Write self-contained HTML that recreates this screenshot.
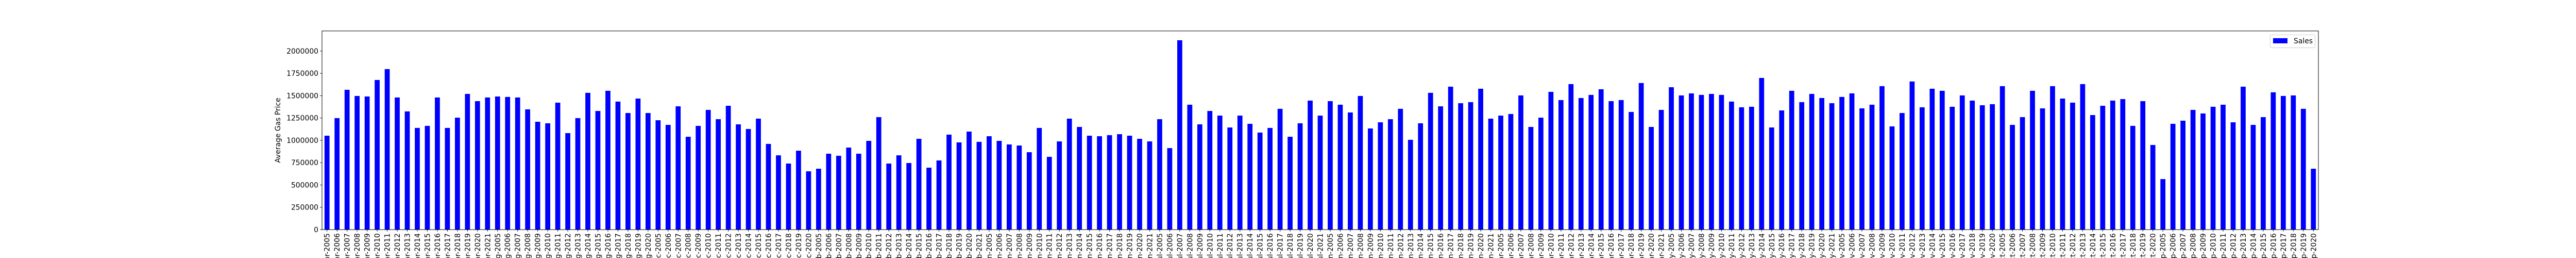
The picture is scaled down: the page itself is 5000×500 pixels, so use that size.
<!DOCTYPE html>
<html>
<head>
<meta charset="utf-8">
<style>
  html, body { margin: 0; padding: 0; background: #ffffff; }
  #chart { display: block; }
  svg text { font-family: "DejaVu Sans", "Liberation Sans", sans-serif; fill: #000; }
</style>
</head>
<body>
<svg id="chart" width="5000" height="500" viewBox="0 0 5000 500" xmlns="http://www.w3.org/2000/svg">
  <rect x="0" y="0" width="5000" height="500" fill="#ffffff"/>
  <g id="bars"></g>
  <g id="yaxis"></g>
  <g id="xaxis"></g>
  <rect x="625" y="60" width="3875" height="385" fill="none" stroke="#000" stroke-width="1"/>
  <text x="0" y="0" font-size="13.9" text-anchor="middle" transform="translate(544,252.5) rotate(-90)">Average Gas Price</text>
  <g>
    <rect x="4406.5" y="67.5" width="87" height="25" rx="2" fill="#fff" stroke="#d0d0d0" stroke-width="1"/>
    <rect x="4412" y="74" width="28" height="10" fill="#0000ff"/>
    <text x="4452" y="84" font-size="13.9">Sales</text>
  </g>
</svg>
<script>
const months = ["Apr","Aug","Dec","Feb","Jan","Jul","Jun","Mar","May","Nov","Oct","Sep"];
const lastYear = [2021,2020,2020,2021,2021,2021,2021,2021,2021,2020,2020,2020];
const firstYear = 2005;
const sales = [
1052,1249,1566,1497,1491,1676,1798,1480,1324,1139,1162,1480,1139,1254,1520,1439,1480,
1491,1486,1480,1347,1208,1191,1422,1081,1249,1532,1329,1555,1434,1306,1468,1306,1225,
1173,1381,1040,1162,1341,1237,1387,1179,1127,1243,960,832,740,884,653,
682,850,827,919,850,994,1260,740,832,746,1017,694,775,1064,977,1098,983,
1046,994,954,942,867,1139,815,988,1243,1150,1052,1046,1058,1069,1052,1017,988,
1237,913,2121,1399,1179,1329,1277,1144,1277,1185,1087,1139,1353,1040,1191,1445,1277,
1439,1399,1312,1497,1133,1202,1237,1353,1006,1191,1532,1381,1601,1416,1428,1578,1243,
1277,1295,1503,1150,1254,1543,1451,1630,1474,1509,1572,1439,1451,1318,1642,1150,1341,
1595,1503,1526,1509,1520,1509,1434,1370,1376,1699,1144,1335,1555,1428,1520,1474,1416,
1486,1526,1358,1399,1607,1156,1306,1659,1370,1578,1555,1376,1503,1445,1393,
1405,1607,1173,1260,1555,1358,1607,1468,1422,1630,1283,1387,1445,1462,1162,1439,
948,566,1185,1220,1341,1301,1376,1399,1202,1601,1173,1260,1538,1497,1503,1353,682
];
const yTicks = [0,250000,500000,750000,1000000,1250000,1500000,1750000,2000000];

const NS = "http://www.w3.org/2000/svg";
const plotL = 625, plotR = 4500, plotT = 60, plotB = 445;
const yMax = 2225000;
const categories = [];
months.forEach((m, i) => { for (let y = firstYear; y <= lastYear[i]; y++) categories.push(m + "-" + y); });
const n = categories.length;
const step = (plotR - plotL) / n;
function xScale(i) { return plotL + (i + 0.5) * step; }
function yScale(v) { return plotB - (v / yMax) * (plotB - plotT); }

const barsG = document.getElementById("bars");
for (let i = 0; i < n; i++) {
  const v = sales[i] * 1000;
  const r = document.createElementNS(NS, "rect");
  const bw = step * 0.5;
  r.setAttribute("x", xScale(i) - bw / 2);
  r.setAttribute("y", yScale(v));
  r.setAttribute("width", bw);
  r.setAttribute("height", plotB - yScale(v));
  r.setAttribute("fill", "#0000ff");
  
  
  barsG.appendChild(r);
}

const yG = document.getElementById("yaxis");
yTicks.forEach(t => {
  const y = yScale(t);
  const l = document.createElementNS(NS, "line");
  l.setAttribute("x1", plotL - 3.5); l.setAttribute("x2", plotL);
  l.setAttribute("y1", y); l.setAttribute("y2", y);
  l.setAttribute("stroke", "#000");
  
  
  yG.appendChild(l);
  const tx = document.createElementNS(NS, "text");
  tx.setAttribute("x", plotL - 7);
  tx.setAttribute("y", y + 5);
  tx.setAttribute("font-size", "13.9");
  tx.setAttribute("text-anchor", "end");
  tx.textContent = String(t);
  
  
  yG.appendChild(tx);
});

const xG = document.getElementById("xaxis");
for (let i = 0; i < n; i++) {
  const x = xScale(i);
  const l = document.createElementNS(NS, "line");
  l.setAttribute("x1", x); l.setAttribute("x2", x);
  l.setAttribute("y1", plotB); l.setAttribute("y2", plotB + 3.5);
  l.setAttribute("stroke", "#000");
  
  
  xG.appendChild(l);
  const tx = document.createElementNS(NS, "text");
  tx.setAttribute("font-size", "13.9");
  tx.setAttribute("text-anchor", "end");
  tx.setAttribute("transform", "translate(" + (x + 5) + "," + (plotB + 7) + ") rotate(-90)");
  tx.textContent = categories[i];
  
  
  xG.appendChild(tx);
}
</script>
</body>
</html>
